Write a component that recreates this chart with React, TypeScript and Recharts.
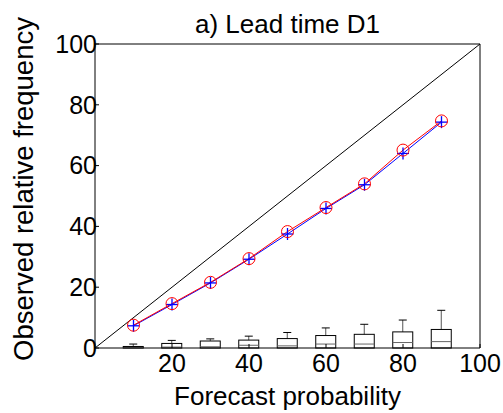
import { ComposedChart, Line, Bar, XAxis, YAxis, ReferenceLine } from 'recharts'

// forecast probability bins (%)
const probs = [10, 20, 30, 40, 50, 60, 70, 80, 90]
// observed relative frequency, two curves (red circles / blue plus)
const obsCircle = [7.5, 14.6, 21.6, 29.4, 38.3, 46.2, 54.0, 65.1, 74.7]
const obsPlus = [7.3, 14.3, 21.4, 29.2, 37.5, 45.9, 53.7, 64.0, 74.3]
// sharpness boxplots per bin
const boxMedian = [0.1, 0.3, 0.4, 0.9, 0.7, 1.3, 1.3, 1.8, 2.1]
const boxUpper = [0.5, 1.5, 2.3, 2.6, 3.1, 4.1, 4.5, 5.3, 6.1]
const whiskerTop = [1.3, 2.5, 3.0, 3.9, 5.1, 6.6, 7.8, 9.2, 12.4]

const xTicks = [20, 40, 60, 80, 100]
const yTicks = [0, 20, 40, 60, 80, 100]

const data = probs.map((p, i) => ({
  prob: p,
  circle: obsCircle[i],
  plus: obsPlus[i],
  med: boxMedian[i],
  q3: boxUpper[i],
  whisk: whiskerTop[i],
}))

const FONT = '"Liberation Sans", Arial, sans-serif'

function BoxShape(props: any) {
  const { x, y, width, height, payload } = props
  const base = y + height
  const unit = height / payload.whisk
  const top = base - payload.q3 * unit
  const med = base - payload.med * unit
  const cx = x + width / 2
  return (
    <g>
      <line x1={cx} x2={cx} y1={y} y2={top} stroke="#555" />
      <line x1={cx - 4} x2={cx + 4} y1={y} y2={y} stroke="#000" />
      <rect x={x} y={top} width={width} height={base - top} fill="none" stroke="#000" />
      <line x1={x} x2={x + width} y1={med} y2={med} stroke="#666" />
    </g>
  )
}

function CircleDot(props: any) {
  const { cx, cy, key } = props
  return <circle key={key} cx={cx} cy={cy} r={6} fill="none" stroke="#ff0000" strokeWidth={1} />
}

function PlusDot(props: any) {
  const { cx, cy, key } = props
  return (
    <g key={key}>
      <line x1={cx - 6} x2={cx + 6} y1={cy} y2={cy} stroke="#0000ff" strokeWidth={1.3} />
      <line x1={cx} x2={cx} y1={cy - 6} y2={cy + 6} stroke="#0000ff" strokeWidth={1.3} />
    </g>
  )
}

const tickStyle = { fill: '#000', fontSize: 25, fontFamily: FONT }

export default function App() {
  return (
    <div style={{ position: 'absolute', left: 0, top: 0, background: '#fff' }}>
      <ComposedChart
        width={503}
        height={413}
        data={data}
        margin={{ top: 43, right: 22, bottom: 64, left: 94 }}
      >
        <XAxis
          dataKey="prob"
          type="number"
          domain={[0, 100]}
          ticks={xTicks}
          interval={0}
          height={1}
          tick={tickStyle}
          tickSize={-4}
          tickMargin={10}
          axisLine={{ stroke: '#000' }}
          tickLine={{ stroke: '#000' }}
          label={(p: any) => (
            <text
              x={p.viewBox.x + p.viewBox.width / 2}
              y={p.viewBox.y + 57}
              textAnchor="middle"
              fontSize={26}
              fontFamily={FONT}
              fill="#000"
            >
              Forecast probability
            </text>
          )}
        />
        <XAxis
          xAxisId="top"
          orientation="top"
          type="number"
          domain={[0, 100]}
          ticks={xTicks}
          interval={0}
          height={1}
          tick={false}
          tickSize={-4}
          axisLine={{ stroke: '#000' }}
          tickLine={{ stroke: '#000' }}
          label={(p: any) => (
            <text
              x={p.viewBox.x + p.viewBox.width / 2}
              y={33}
              textAnchor="middle"
              fontSize={26}
              fontFamily={FONT}
              fill="#000"
            >
              a) Lead time D1
            </text>
          )}
        />
        <YAxis
          type="number"
          domain={[0, 100]}
          ticks={yTicks}
          interval={0}
          width={1}
          tick={tickStyle}
          tickSize={-4}
          tickMargin={2}
          axisLine={{ stroke: '#000' }}
          tickLine={{ stroke: '#000' }}
          label={(p: any) => {
            const cx = 33
            const cy = p.viewBox.y + p.viewBox.height / 2 - 7
            return (
              <text
                x={cx}
                y={cy}
                transform={`rotate(-90, ${cx}, ${cy})`}
                textAnchor="middle"
                fontSize={27.5}
                fontFamily={FONT}
                fill="#000"
              >
                Observed relative frequency
              </text>
            )
          }}
        />
        <YAxis
          yAxisId="right"
          orientation="right"
          type="number"
          domain={[0, 100]}
          ticks={yTicks}
          interval={0}
          width={1}
          tick={false}
          tickSize={-4}
          axisLine={{ stroke: '#000' }}
          tickLine={{ stroke: '#000' }}
        />
        <Bar dataKey="whisk" barSize={20} shape={BoxShape} isAnimationActive={false} />
        <ReferenceLine
          segment={[
            { x: 0, y: 0 },
            { x: 100, y: 100 },
          ]}
          stroke="#000"
          strokeWidth={1}
        />
        <Line
          dataKey="plus"
          stroke="#0000ff"
          strokeWidth={1}
          dot={PlusDot}
          isAnimationActive={false}
        />
        <Line
          dataKey="circle"
          stroke="#ff0000"
          strokeWidth={1}
          dot={CircleDot}
          isAnimationActive={false}
        />
      </ComposedChart>
    </div>
  )
}
